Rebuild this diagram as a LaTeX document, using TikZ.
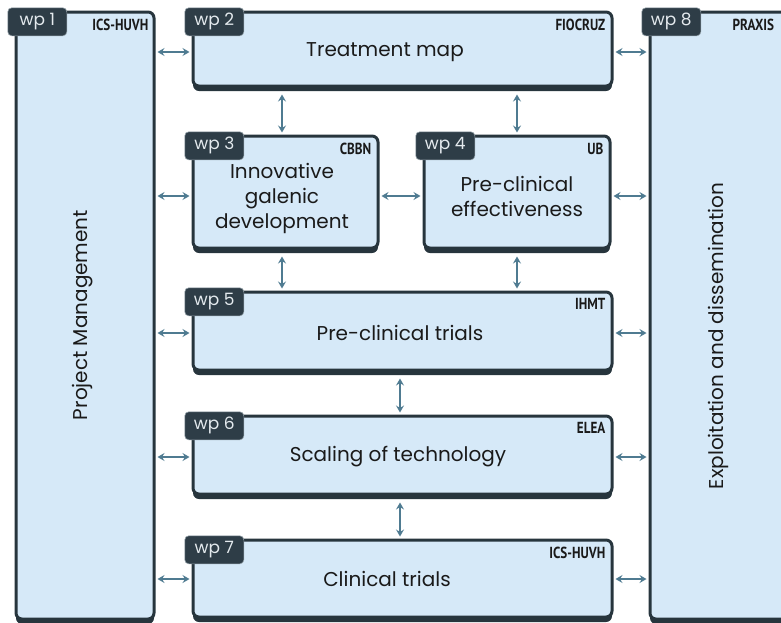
\documentclass[tikz,border=0pt]{standalone}
\usepackage{fontspec}
\setmainfont{Poppins}
\newfontfamily\partnerfont{PT Sans}
\usetikzlibrary{arrows.meta,shadows}

\definecolor{frame}{HTML}{27353D}
\definecolor{cell}{HTML}{D6E9F8}
\definecolor{arrowcol}{HTML}{4F7B91}
\definecolor{tabfill}{HTML}{2E3D47}
\definecolor{tabline}{HTML}{8C9AA2}
\definecolor{tabtext}{HTML}{E4EAEE}
\definecolor{textcol}{HTML}{1A1A1A}

% narrow bold partner names
\newcommand{\org}[1]{\scalebox{0.82}[1]{#1}}

\tikzset{
  wpbox/.style={draw=frame, fill=cell, line width=3pt, rounded corners=6pt,
    anchor=north west, inner sep=0pt,
    drop shadow={shadow xshift=0pt, shadow yshift=-5pt, fill=frame, opacity=1}},
  wptab/.style={draw=tabline, fill=tabfill, line width=0.6pt, rounded corners=4pt,
    anchor=north west, minimum width=59pt, minimum height=28pt, inner sep=0pt,
    text=tabtext, font=\fontsize{17}{17}\selectfont},
  partner/.style={anchor=north east, inner sep=0pt, text=textcol,
    font=\partnerfont\bfseries\fontsize{16}{16}\selectfont},
  title/.style={inner sep=0pt, align=center, text=textcol,
    font=\fontsize{20}{25}\selectfont},
  link/.style={draw=arrowcol, line width=1.6pt,
    {Stealth[length=7pt,width=8pt,inset=2.5pt]}-{Stealth[length=7pt,width=8pt,inset=2.5pt]},
    shorten <=2pt, shorten >=2pt},
}

\begin{document}
\begin{tikzpicture}[x=1pt, y=-1pt]
    \useasboundingbox (0,0) rectangle (781,622);
    \clip (0,0) rectangle (781,622);

    % work package boxes
    \node[wpbox, minimum width=138pt, minimum height=607pt] (wp1) at (14.5,10.5) {};
    \node[wpbox, minimum width=419pt, minimum height=74pt] (wp2) at (191.5,10.5) {};
    \node[wpbox, minimum width=185pt, minimum height=112pt] (wp3) at (191.5,134.5) {};
    \node[wpbox, minimum width=186pt, minimum height=112pt] (wp4) at (422.5,134.5) {};
    \node[wpbox, minimum width=419pt, minimum height=78pt] (wp5) at (191.5,290.5) {};
    \node[wpbox, minimum width=419pt, minimum height=78pt] (wp6) at (191.5,414.5) {};
    \node[wpbox, minimum width=419pt, minimum height=77pt] (wp7) at (191.5,538.5) {};
    \node[wpbox, minimum width=160pt, minimum height=607pt] (wp8) at (648.5,10.5) {};

    % tabs
    \foreach \n in {1,...,8}
        \node[wptab] (tab\n) at ([shift={(-7,-3)}]wp\n.north west) {wp \n};

    % partners
    \node[partner] (p1) at ([shift={(-7,8)}]wp1.north east) {\org{ICS-HUVH}};
    \node[partner] (p2) at ([shift={(-8,8)}]wp2.north east) {\org{FIOCRUZ}};
    \node[partner] (p3) at ([shift={(-8,8)}]wp3.north east) {\org{CBBN}};
    \node[partner] (p4) at ([shift={(-8,8)}]wp4.north east) {\org{UB}};
    \node[partner] (p5) at ([shift={(-8,8)}]wp5.north east) {\org{IHMT}};
    \node[partner] (p6) at ([shift={(-8,8)}]wp6.north east) {\org{ELEA}};
    \node[partner] (p7) at ([shift={(-8,8)}]wp7.north east) {\org{ICS-HUVH}};
    \node[partner, anchor=north west] (p8) at ([shift={(84,8)}]wp8.north west) {\org{PRAXIS}};

    % titles
    \node[title, rotate=90] (t1) at (83,315) {Project Management};
    \node[title] (t2) at (385,52) {Treatment map};
    \node[title] (t3) at (282,198) {Innovative\\galenic\\development};
    \node[title] (t4) at (517,196) {Pre-clinical\\effectiveness};
    \node[title] (t5) at (400,333) {Pre-clinical trials};
    \node[title] (t6) at (398,457) {Scaling of technology};
    \node[title] (t7) at (387,579) {Clinical trials};
    \node[title, rotate=90] (t8) at (718,336) {Exploitation and dissemination};

    % links to wp1 and wp8
    \foreach \n in {2,5,6,7} {
        \draw[link] (wp1.east |- t\n) -- (wp\n.west |- t\n);
        \draw[link] (wp\n.east |- t\n) -- (wp8.west |- t\n);
    }
    \draw[link] (wp1.east |- t4) -- (wp3.west |- t4);
    \draw[link] (wp3.east |- t4) -- (wp4.west |- t4);
    \draw[link] (wp4.east |- t4) -- (wp8.west |- t4);

    % vertical links
    \draw[link, shorten <=7pt] (t3 |- wp2.south) -- (t3 |- wp3.north);
    \draw[link, shorten <=7pt] (t4 |- wp2.south) -- (t4 |- wp4.north);
    \draw[link, shorten <=7pt] (t3 |- wp3.south) -- (t3 |- wp5.north);
    \draw[link, shorten <=7pt] (t4 |- wp4.south) -- (t4 |- wp5.north);
    \draw[link, shorten <=7pt] (t5 |- wp5.south) -- (t5 |- wp6.north);
    \draw[link, shorten <=7pt] (t5 |- wp6.south) -- (t5 |- wp7.north);
\end{tikzpicture}
\end{document}
